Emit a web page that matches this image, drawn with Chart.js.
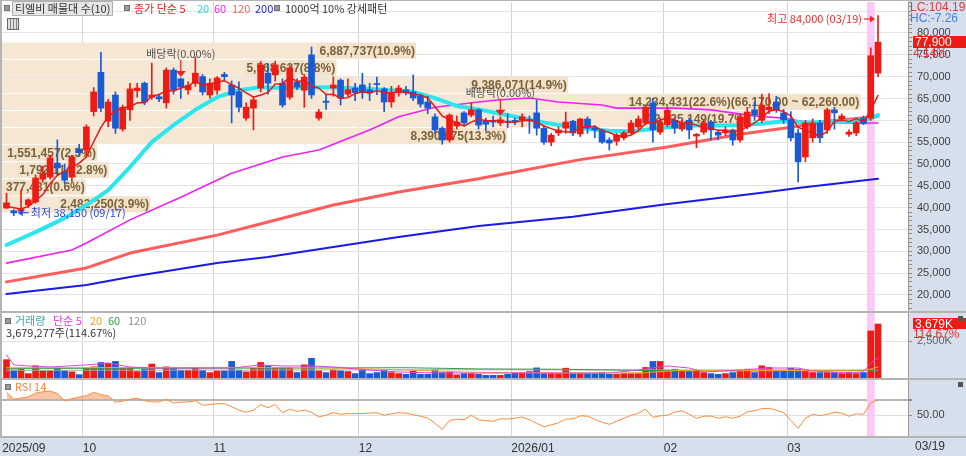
<!DOCTYPE html>
<html><head><meta charset="utf-8">
<script src="https://cdn.jsdelivr.net/npm/chart.js@4.4.1/dist/chart.umd.min.js"></script>
<style>
html,body{margin:0;padding:0;background:#fff;width:966px;height:456px;overflow:hidden;}
#root{position:relative;width:966px;height:456px;font-family:"Noto Sans CJK KR","Noto Sans",sans-serif;}
canvas{position:absolute;left:0;}
.strip{position:absolute;background:#d6e0ec;}
.ln{position:absolute;background:#b4b4b4;}
.t{position:absolute;white-space:nowrap;font-size:11px;line-height:13px;z-index:5;}
.sq{position:absolute;width:4px;height:4px;background:#9a9a9a;border:1px solid #707070;z-index:5;}
.tag{position:absolute;z-index:5;background:#ec1c14;color:#fff;font-family:"Liberation Sans",sans-serif;font-size:12px;line-height:12px;padding-left:2px;}
.ax{font-family:"Liberation Sans",sans-serif;font-size:12px;}
</style></head>
<body><div id="root">
<div class="strip" style="left:908px;top:0;width:58px;height:456px"></div>
<div class="strip" style="left:0;top:438px;width:908px;height:18px"></div>
<canvas id="cPrice" width="966" height="312" style="top:0;width:966px;height:312px"></canvas>
<canvas id="cVol" width="966" height="66" style="top:312px;width:966px;height:66px"></canvas>
<canvas id="cRsi" width="966" height="76" style="top:380px;width:966px;height:76px"></canvas>
<div class="ln" style="left:0;top:0;width:966px;height:1px"></div>
<div class="ln" style="left:0;top:0;width:2px;height:438px"></div>
<div class="ln" style="left:0;top:311px;width:966px;height:2px"></div>
<div class="ln" style="left:0;top:378px;width:966px;height:2px"></div>
<div class="ln" style="left:0;top:436px;width:966px;height:2px"></div>

<div class="sq" style="left:4px;top:5px"></div>
<div class="t" style="left:12px;top:1px;height:13px;padding:0 2px;background:#e6e6e6;border:1px solid #b0b0b0;color:#333">티엘비 매물대 수(10)</div>
<div class="sq" style="left:124px;top:5px"></div>
<div class="t" style="left:134px;top:2px;color:#ec2020">종가 단순 5</div>
<div class="t" style="left:197px;top:2px;color:#22dbe8">20</div>
<div class="t" style="left:214px;top:2px;color:#f020f0">60</div>
<div class="t" style="left:232px;top:2px;color:#ff6060">120</div>
<div class="t" style="left:255px;top:2px;color:#2020e0">200</div>
<div class="sq" style="left:274px;top:5px"></div>
<div class="t" style="left:285px;top:2px;color:#333">1000억 10% 강세패턴</div>
<div style="position:absolute;left:7px;top:18px;width:10px;height:10px;border:1px solid #666;background:repeating-linear-gradient(90deg,#ddd 0 2px,#888 2px 3px);z-index:5"></div>

<div class="t ax" style="left:910px;top:1px;color:#e03c3c">LC:104.19</div>
<div class="t ax" style="left:910px;top:12px;color:#4a7fd8">HC:-7.26</div>
<div class="tag" style="left:913px;top:36px;width:51px;height:12px">77,900</div>
<div class="t ax" style="left:913px;top:47px;color:#f03030">4.14%</div>

<div class="sq" style="left:5px;top:318px"></div>
<div class="t" style="left:15px;top:314px;color:#3aa5ad">거래량</div>
<div class="t" style="left:53px;top:314px;color:#e040e0">단순 5</div>
<div class="t" style="left:90px;top:314px;color:#f0a020">20</div>
<div class="t" style="left:108px;top:314px;color:#2e9e4a">60</div>
<div class="t" style="left:128px;top:314px;color:#909090">120</div>
<div class="t" style="left:6px;top:326px;color:#333">3,679,277주(114.67%)</div>
<div class="tag" style="left:913px;top:318px;width:51px;height:11px">3,679K</div>
<div class="t ax" style="left:913px;top:328px;color:#f03030">114.67%</div>
<div style="position:absolute;left:958px;top:316px;width:5px;height:5px;background:#555;z-index:5"></div>

<div class="sq" style="left:5px;top:384px"></div>
<div class="t" style="left:15px;top:380px;color:#ff8030">RSI 14</div>
<div style="position:absolute;left:958px;top:382px;width:5px;height:5px;background:#555;z-index:5"></div>
<div class="t ax" style="left:915px;top:440px;color:#333">03/19</div>
</div>
<script>
// ---------- categories ----------
const tradingDays = {
  '2025/09': [16,17,18,19,22,23,24,25,26,29,30],
  '2025/10': [1,2,10,13,14,15,16,17,20,21,22,23,24,27,28,29,30,31],
  '2025/11': [3,4,5,6,7,10,11,12,13,14,17,18,19,20,21,24,25,26,27,28],
  '2025/12': [1,2,3,4,5,8,9,10,11,12,15,16,17,18,19,22,23,24,26,29,30],
  '2026/01': [2,5,6,7,8,9,12,13,14,15,16,19,20,21,22,23,26,27,28,29,30],
  '2026/02': [2,3,4,5,6,9,10,11,12,13,19,20,23,24,25,26,27],
  '2026/03': [3,4,5,6,9,10,11,12,13,16,17,18,19]
};
const dates = Object.entries(tradingDays).flatMap(([m, ds]) => ds.map(d => m + '/' + String(d).padStart(2, '0')));

// ---------- price series ----------
const opens = [39900,39300,39200,40600,41300,46500,47000,50200,48200,47000,53400,
 53200,62000,71000,59800,65800,58000,62400,66800,68500,65300,65400,64000,71500,69500,67000,68500,70000,65800,
 66900,70500,68100,66500,60500,62800,67400,70800,70400,68500,65300,68800,66900,75000,60500,64400,67400,69200,66000,67400,
 68100,67000,68400,67200,64200,66300,67000,66500,65600,64200,60800,58200,55500,58700,61700,61200,62400,59800,59800,59400,59800,
 60000,60100,60200,61700,58200,55000,57100,58200,59800,56900,60300,58300,57800,55500,55200,56000,57100,58500,59400,64000,57300,
 59000,60000,58000,60000,56400,57300,59600,57300,57100,57800,55500,58500,62400,60000,62400,64200,61700,
 60100,57100,51600,56000,59400,57800,62400,60300,56800,57100,60500,60500,70800];
const highs = [43300,39500,44000,42000,47500,49500,52000,55500,50000,52000,54500,
 59000,67500,75600,64800,66500,63500,68500,68500,68800,73100,66000,72000,72000,69700,68800,74500,70500,69500,
 70000,71000,69000,68800,64000,65500,73500,73000,73500,69500,72500,69500,70500,76800,62500,66000,70000,69500,69500,68500,
 70800,68500,69900,67500,67800,68000,67800,70400,66000,65500,61500,58500,61500,61000,62000,64000,62600,60500,61000,60800,61500,
 60500,61500,61000,64600,58800,57000,58500,61900,60000,60500,60800,58800,58000,56000,57000,57500,60000,61000,63500,65000,60500,
 63000,60500,60000,60500,57000,60000,60000,57800,58500,58000,61500,63000,64200,66000,66100,65500,62500,
 62000,58000,60000,60300,60000,62800,63000,61500,57800,59800,61000,76600,84000];
const lows = [39800,38150,38700,40000,41000,45800,46500,47500,45500,46000,51800,
 51500,61000,62000,58500,57000,57500,60000,65300,63600,64800,64300,62800,66000,65000,66000,67800,65800,65000,
 66000,69000,59400,61900,60000,57800,66500,66000,69000,63000,64800,67000,63000,65000,60000,62500,65500,63500,65500,64500,
 65000,64500,65900,62000,63000,65500,65800,64500,63000,61500,57000,54500,55000,58000,58800,60800,58000,57500,58500,58800,58300,
 59000,58500,57000,56600,54500,54200,56500,57000,56500,56300,57000,56000,54700,53200,54300,55500,56800,58000,59000,55000,56800,
 58500,57000,57500,55800,53700,56800,55500,55500,56500,54300,55000,58000,60000,59500,61500,61800,59300,
 55300,45900,50500,55000,54900,57000,58000,59800,56300,56500,59000,60000,70000];
const closes = [41100,38800,39600,41800,46800,47800,51400,49100,46300,51600,52600,
 58500,66500,62800,64200,58200,63000,67200,67400,64200,65800,64900,71500,67000,67600,68000,70800,66500,68500,
 69700,70000,65800,63000,63000,64700,72700,68500,72700,63500,72000,67600,69900,65800,61900,64100,68100,65100,67000,66300,
 66300,66300,68200,64200,66300,67400,66300,65100,63700,62800,57800,55500,61200,59600,59400,62400,58900,59100,59600,60100,59600,
 59600,60800,59900,58200,55000,56600,57800,59600,57100,60300,58200,57800,55000,54800,56600,57100,59400,60300,63000,57800,59400,
 62300,58200,59300,57800,56800,59400,57800,56600,57800,55500,60800,61900,61200,63500,63000,62400,60100,
 56000,50500,59400,59400,56000,62400,61700,61000,57300,59400,59200,74800,77900];
const volumes = [1250000,550000,600000,300000,830000,490000,490000,670000,490000,420000,230000,
 670000,760000,1060000,1000000,1130000,670000,720000,440000,600000,950000,370000,760000,670000,530000,530000,720000,530000,370000,
 490000,490000,1130000,530000,420000,720000,1060000,830000,720000,720000,720000,370000,900000,1340000,490000,370000,550000,490000,440000,300000,
 550000,300000,370000,530000,370000,300000,250000,490000,250000,250000,550000,370000,420000,210000,300000,300000,250000,180000,180000,180000,250000,
 370000,370000,440000,690000,300000,300000,300000,670000,300000,300000,300000,300000,370000,250000,250000,300000,300000,300000,720000,1130000,1130000,
 530000,600000,490000,490000,490000,370000,300000,250000,300000,370000,440000,600000,370000,830000,720000,530000,530000,
 670000,600000,490000,370000,370000,370000,370000,300000,370000,300000,370000,3208600,3679277];

// ---------- moving averages ----------
const ma5 = [40300,40000,39700,40300,41600,43000,45500,47400,48300,49200,50200,
 51600,55100,58400,60900,62000,62900,63100,64000,64000,65500,65900,66800,66700,67400,67800,69000,68000,68300,
 68700,69100,68100,67400,66300,65300,65800,66400,68300,68400,69900,68900,69100,67800,67400,65900,66000,65000,65200,66100,
 66600,66200,66800,66300,66300,66500,66500,65900,65800,65100,63100,61000,60200,59400,58700,59600,60300,59900,59900,60000,59500,
 59600,59900,60000,59600,58700,58100,57500,57400,57200,58300,58600,58600,57700,57200,56500,56300,56600,57600,59300,59500,60000,
 60600,60100,59400,59400,58900,58300,58200,57700,57700,57400,57700,58500,59400,60600,62100,62400,62000,
 61000,58400,57700,57100,56300,57500,59800,60100,59700,60400,59700,62300,65700];
const ma20 = [['2025/09/16',31450],['2025/09/22',34400],['2025/09/26',37600],['2025/10/01',40600],['2025/10/13',44000],
 ['2025/10/16',49300],['2025/10/21',55000],['2025/10/24',58900],['2025/10/29',62400],['2025/11/03',65300],['2025/11/06',66900],
 ['2025/11/11',67600],['2025/11/14',67400],['2025/11/19',67600],['2025/11/24',67600],['2025/11/27',67400],['2025/12/02',67200],
 ['2025/12/05',66900],['2025/12/10',66500],['2025/12/15',65100],['2025/12/18',63300],['2025/12/23',62500],['2025/12/29',61500],
 ['2026/01/05',60500],['2026/01/08',59500],['2026/01/13',58700],['2026/01/16',58000],['2026/01/21',57600],['2026/01/26',57500],
 ['2026/01/29',58000],['2026/02/03',58600],['2026/02/06',58800],['2026/02/11',58800],['2026/02/19',58900],['2026/02/24',59200],
 ['2026/02/27',59800],['2026/03/05',59500],['2026/03/10',59600],['2026/03/13',59800],['2026/03/18',60400],['2026/03/19',61200]];
const ma60 = [['2025/09/16',27300],['2025/09/29',30300],['2025/10/01',31900],['2025/10/16',37200],['2025/10/27',42400],
 ['2025/11/05',47900],['2025/11/14',51600],['2025/11/21',53200],['2025/12/02',57800],['2025/12/08',60800],['2025/12/15',63000],
 ['2025/12/23',64200],['2025/12/29',64700],['2026/01/06',65100],['2026/01/12',64200],['2026/01/20',63500],['2026/01/22',62800],
 ['2026/02/03',62800],['2026/02/10',62400],['2026/02/23',61000],['2026/02/27',60500],['2026/03/05',59600],['2026/03/12',59400],
 ['2026/03/19',59400]];
const ma120 = [['2025/09/16',23000],['2025/10/01',26200],['2025/10/16',29600],['2025/11/03',33700],['2025/11/12',36700],
 ['2025/11/25',40600],['2025/12/08',43600],['2025/12/23',46600],['2026/01/15',51000],['2026/02/02',53900],['2026/02/19',56800],
 ['2026/03/03',58400],['2026/03/10',59800],['2026/03/19',60900]];
const ma200 = [['2025/09/16',20200],['2025/10/01',22300],['2025/10/16',24100],['2025/11/03',27300],['2025/11/12',28700],
 ['2025/11/25',31000],['2025/12/08',33300],['2025/12/23',35800],['2026/01/14',37900],['2026/01/30',40600],['2026/02/24',43400],
 ['2026/03/04',44500],['2026/03/19',46600]];

// ---------- volume moving averages ----------
const vma5 = [['2025/09/16',1570000],['2025/09/17',890000],['2025/09/19',820000],['2025/09/24',750000],['2025/10/01',890000],
 ['2025/10/13',1020000],['2025/10/16',750000],['2025/10/21',680000],['2025/10/30',680000],['2025/11/05',680000],['2025/11/11',890000],
 ['2025/11/14',820000],['2025/11/20',820000],['2025/11/25',750000],['2025/12/02',545000],['2025/12/08',410000],['2025/12/15',340000],
 ['2025/12/23',340000],['2026/01/21',340000],['2026/01/27',545000],['2026/02/02',820000],['2026/02/05',680000],['2026/02/09',410000],
 ['2026/02/19',545000],['2026/02/25',680000],['2026/03/04',680000],['2026/03/06',480000],['2026/03/13',340000],['2026/03/17',410000],
 ['2026/03/18',1020000],['2026/03/19',1360000]];
const vma20 = [['2025/09/16',700000],['2025/11/04',720000],['2025/11/25',680000],['2025/12/09',550000],['2025/12/23',380000],
 ['2026/01/16',340000],['2026/01/28',360000],['2026/02/03',500000],['2026/02/25',520000],['2026/03/17',480000],
 ['2026/03/18',620000],['2026/03/19',750000]];
const vma60 = [['2025/09/16',650000],['2025/11/18',680000],['2025/12/09',700000],['2025/12/23',620000],['2026/01/09',600000],
 ['2026/01/30',500000],['2026/02/25',470000],['2026/03/18',520000],['2026/03/19',570000]];
const vma120 = [['2025/09/16',520000],['2025/12/16',560000],['2026/03/19',540000]];

// ---------- RSI 14 ----------
const rsi14 = [80.7,71.3,72.7,74.4,79.3,81.1,82,78.9,69.1,72,74,
 76,80.3,77.3,75.7,67.3,68.7,71.3,72.7,69.3,67.7,67.7,71.3,66.4,67.3,67.7,69,63.3,64,
 65.3,65.3,61.3,56.7,54,56.7,64,60,64.3,53.3,58,55.3,56.7,54,48,50,53.6,51.3,52.3,52,
 52.3,52.9,53.3,50,52,53.3,52.7,50.7,48.7,46.3,39.3,31.3,43.3,44.7,44,50,44,42.9,42,45.3,45,
 46,47.7,44,39.3,34.7,37.3,40,44.7,45.3,49.3,48.7,44.7,40.7,38,42,46,50,52.7,58,47.3,49.3,
 50,54,56,51.3,46,48.7,49,46,48,46,48.7,54.7,56,58.7,59.3,56.7,53.6,
 43.3,32.7,46,51.3,49.3,51.3,54,52.7,48.7,52,51.3,66.5,70.2];

// ---------- volume profile (매물대 10) ----------
const profileLow = [38800,42710,46620,50530,54440,58350,62260,66170,70080,73990];
const profileHigh = [42710,46620,50530,54440,58350,62260,66170,70080,73990,77900];
const profileVolume = [2482250,377431,1792114,1551457,8390675,12425149,14234431,9386071,5568627,6887737];
const profilePct = [3.9,0.6,2.8,2.5,13.3,19.7,22.6,14.9,8.8,10.9];

// ---------- ticks / marks ----------
const priceTicks = [20000,25000,30000,35000,40000,45000,50000,55000,60000,65000,70000,75000,80000];
const volumeTicks = [2500000];
const rsiTicks = [50, 70];
const selectedDate = '2026/03/18';
const exDividendDates = ['2025/10/27', '2025/12/29'];
const lowMark = { date: '2025/09/17', price: 38150 };
const highMark = { date: '2026/03/19', price: 84000 };

// ---------- helpers ----------
const RED = '#ec1c14', BLUE = '#1a5ad2';
const idx = d => dates.indexOf(d);
const pts = arr => arr.map(([d, v]) => ({ x: idx(d), y: v }));
const candleColors = dates.map((d, i) => closes[i] >= opens[i] ? RED : BLUE);
const fmt = v => v.toLocaleString('en-US');
const X_MIN = -0.62, X_MAX = 124.13;
const P_MIN = 16100, P_MAX = 87100;
const V_MAX = 4430000;
const R_MIN = 21.2, R_MAX = 96.7;
const PROFILE_FULL = 23.86;           // % that would span the whole plot width
const selIdx = idx(selectedDate);

const monthStarts = dates.map((d, i) => (i > 0 && d.slice(0, 7) !== dates[i - 1].slice(0, 7)) ? i : -1).filter(i => i > 0);
const xTickVals = [X_MIN + 0.02, ...monthStarts.map(i => i - 0.5)];
const xTickLabels = [dates[0].slice(0, 7), ...monthStarts.map(i => {
  const d = dates[i]; return d.slice(5, 7) === '01' ? d.slice(0, 7) : d.slice(5, 7);
})];

Chart.defaults.font.family = '"Liberation Sans", "Noto Sans CJK KR", sans-serif';
Chart.defaults.animation = false;
Chart.defaults.events = [];
Chart.defaults.plugins.legend.display = false;
Chart.defaults.plugins.tooltip.enabled = false;

function xAxis(showLabels) {
  return {
    type: 'linear', min: X_MIN, max: X_MAX, offset: false, beginAtZero: false,
    grid: { offset: false, drawTicks: false, color: c => c.index === 0 ? 'rgba(0,0,0,0)' : '#d4d4d4' },
    border: { display: false },
    ticks: { display: showLabels, autoSkip: false, maxRotation: 0, align: 'start', padding: 4, color: '#333',
      font: { size: 12 }, callback: (v, i) => xTickLabels[i] },
    afterBuildTicks: s => { s.ticks = xTickVals.map(v => ({ value: v })); },
    afterFit: s => { s.paddingLeft = 0; s.paddingRight = 0; s.height = showLabels ? 18 : 0; }
  };
}
function rightAxis(extra) {
  return Object.assign({
    type: 'linear', position: 'right', offset: false,
    border: { color: '#9a9a9a' },
    afterFit: s => { s.width = 58; s.paddingTop = 0; s.paddingBottom = 0; }
  }, extra);
}
function band(min, max) {
  return { type: 'bar', label: 'sel', data: [{ x: selIdx, y: [min, max] }], backgroundColor: '#fcc8f7',
    barThickness: 7, grouped: false, order: 100, borderWidth: 0 };
}
function line(data, color, width, order) {
  return { type: 'line', data, borderColor: color, borderWidth: width, pointRadius: 0, tension: 0,
    fill: false, order, borderJoinStyle: 'round', borderCapStyle: 'round' };
}

// ---------- price plugins ----------
const profileLabels = {
  id: 'profileLabels',
  afterDatasetDraw(chart, args) {
    if (chart.data.datasets[args.index].label !== 'profile') return;
    const ctx = chart.ctx; const left = chart.chartArea.left + 2;
    const maxPct = Math.max(...profilePct);
    ctx.save();
    ctx.font = 'bold 12px "Liberation Sans"';
    ctx.textAlign = 'right'; ctx.textBaseline = 'middle';
    args.meta.data.forEach((bar, j) => {
      let text = fmt(profileVolume[j]) + '(' + profilePct[j].toFixed(1) + '%)';
      if (profilePct[j] === maxPct) {
        const f2 = v => v.toLocaleString('en-US', { minimumFractionDigits: 2, maximumFractionDigits: 2 });
        text += '(' + f2(profileHigh[j]) + ' ~ ' + f2(profileLow[j]) + ')';
      }
      const w = ctx.measureText(text).width;
      const end = Math.max(bar.x, bar.base);
      const right = Math.max(end, left + w + 3);
      ctx.fillStyle = '#f2e2cb';
      ctx.fillRect(right - w - 3, bar.y - 7.5, w + 3, 15);
      ctx.fillStyle = '#7a6238';
      ctx.fillText(text, right - 1, bar.y + 0.5);
    });
    ctx.restore();
  }
};
const markers = {
  id: 'markers',
  afterDatasetsDraw(chart) {
    const { ctx, scales: { x, y } } = chart;
    ctx.save();
    ctx.font = '11px "Noto Sans CJK KR"'; ctx.textBaseline = 'middle';
    exDividendDates.forEach(d => {
      const i = idx(d); const px = x.getPixelForValue(i); const tip = y.getPixelForValue(highs[i]) - 1;
      ctx.strokeStyle = '#f01e1e'; ctx.fillStyle = '#f01e1e'; ctx.lineWidth = 1.2;
      ctx.beginPath(); ctx.moveTo(px, tip - 17); ctx.lineTo(px, tip - 5); ctx.stroke();
      ctx.beginPath(); ctx.moveTo(px - 5, tip - 6); ctx.lineTo(px + 5, tip - 6); ctx.lineTo(px, tip); ctx.closePath(); ctx.fill();
      ctx.fillStyle = '#505050'; ctx.textAlign = 'center';
      ctx.fillText('배당락(0.00%)', px, tip - 23);
    });
    let i = idx(lowMark.date), px = x.getPixelForValue(i), py = y.getPixelForValue(lowMark.price) - 3;
    ctx.strokeStyle = '#2448e0'; ctx.fillStyle = '#2448e0'; ctx.lineWidth = 1.2;
    ctx.beginPath(); ctx.moveTo(px + 7, py); ctx.lineTo(px + 15, py); ctx.stroke();
    ctx.beginPath(); ctx.moveTo(px + 4, py); ctx.lineTo(px + 9, py - 3.5); ctx.lineTo(px + 9, py + 3.5); ctx.closePath(); ctx.fill();
    ctx.textAlign = 'left';
    ctx.fillText('최저 ' + fmt(lowMark.price) + ' (' + lowMark.date.slice(5) + ')', px + 17, py);
    i = idx(highMark.date); px = x.getPixelForValue(i); py = y.getPixelForValue(highMark.price) + 3.5;
    ctx.strokeStyle = '#f02828'; ctx.fillStyle = '#f02828';
    ctx.beginPath(); ctx.moveTo(px - 14, py); ctx.lineTo(px - 7, py); ctx.stroke();
    ctx.beginPath(); ctx.moveTo(px - 3, py); ctx.lineTo(px - 8, py - 3.5); ctx.lineTo(px - 8, py + 3.5); ctx.closePath(); ctx.fill();
    ctx.textAlign = 'right';
    ctx.fillText('최고 ' + fmt(highMark.price) + ' (' + highMark.date.slice(5) + ')', px - 16, py);
    ctx.restore();
  }
};

// ---------- price chart ----------
new Chart(document.getElementById('cPrice'), {
  type: 'bar',
  data: { datasets: [
    band(P_MIN, P_MAX),
    { type: 'bar', label: 'profile', indexAxis: 'y', xAxisID: 'x', yAxisID: 'y',
      data: profileLow.map((lo, j) => ({ y: (lo + profileHigh[j]) / 2,
        x: [X_MIN, X_MIN + profilePct[j] / PROFILE_FULL * (X_MAX - X_MIN)] })),
      backgroundColor: '#f6e7d4', barThickness: 15.5, grouped: false, order: 90, borderWidth: 0 },
    line(pts(ma200), '#1a1ae6', 2, 50),
    line(pts(ma120), '#ff5c5c', 3, 49),
    line(pts(ma60), '#f020f0', 1.6, 48),
    line(pts(ma20), '#2ce6ee', 4, 47),
    { type: 'bar', label: 'wick', data: dates.map((d, i) => ({ x: i, y: [lows[i], highs[i]] })),
      backgroundColor: candleColors, barThickness: 1, grouped: false, order: 20, borderWidth: 0 },
    { type: 'bar', label: 'body', data: dates.map((d, i) => ({ x: i, y: [opens[i], closes[i]] })),
      backgroundColor: candleColors, barThickness: 6, grouped: false, order: 19, borderWidth: 0, minBarLength: 1 },
    line(dates.map((d, i) => ({ x: i, y: ma5[i] })), '#e81818', 1.5, 10)
  ] },
  options: {
    responsive: false, maintainAspectRatio: false,
    layout: { padding: { left: 2, right: 0, top: 2, bottom: 0 } },
    scales: {
      x: xAxis(false),
      y: rightAxis({
        min: P_MIN, max: P_MAX, beginAtZero: false,
        grid: { offset: false, color: c => c.tick && c.tick.value % 5000 === 0 ? '#e3e3e3' : 'rgba(0,0,0,0)',
          tickColor: '#8c8c8c', tickLength: 4 },
        afterBuildTicks: s => { const t = []; for (let v = 17000; v <= 87000; v += 1000) t.push({ value: v }); s.ticks = t; },
        ticks: { autoSkip: false, padding: 5, color: '#404040', font: { size: 11 },
          callback: v => priceTicks.includes(v) ? fmt(v) : '' }
      })
    }
  },
  plugins: [profileLabels, markers]
});

// ---------- volume chart ----------
new Chart(document.getElementById('cVol'), {
  type: 'bar',
  data: { datasets: [
    band(0, V_MAX),
    { type: 'bar', data: dates.map((d, i) => ({ x: i, y: volumes[i] })), backgroundColor: candleColors,
      barThickness: 6, grouped: false, order: 20, borderWidth: 0 },
    line(pts(vma120), '#a8a8a8', 1, 9),
    line(pts(vma60), '#2e9e4a', 1, 8),
    line(pts(vma20), '#f5a623', 1, 7),
    line(pts(vma5), '#e040e0', 1, 6)
  ] },
  options: {
    responsive: false, maintainAspectRatio: false,
    layout: { padding: { left: 2, right: 0, top: 1, bottom: 0 } },
    scales: {
      x: xAxis(false),
      y: rightAxis({
        min: 0, max: V_MAX,
        grid: { offset: false, color: '#e3e3e3', tickColor: '#8c8c8c', tickLength: 4 },
        afterBuildTicks: s => { s.ticks = volumeTicks.map(v => ({ value: v })); },
        ticks: { padding: 5, color: '#606060', font: { size: 11 }, callback: v => fmt(v / 1000) + 'K' }
      })
    }
  }
});

// ---------- RSI chart ----------
new Chart(document.getElementById('cRsi'), {
  type: 'line',
  data: { datasets: [
    band(R_MIN, R_MAX),
    { type: 'line', data: dates.map((d, i) => ({ x: i, y: rsi14[i] })), borderColor: '#ff8a3d', borderWidth: 1,
      pointRadius: 0, tension: 0, order: 5,
      fill: { target: { value: 70 }, above: 'rgba(242,160,110,0.6)', below: 'rgba(0,0,0,0)' } }
  ] },
  options: {
    responsive: false, maintainAspectRatio: false,
    layout: { padding: { left: 2, right: 0, top: 0, bottom: 1 } },
    scales: {
      x: xAxis(true),
      y: rightAxis({
        min: R_MIN, max: R_MAX,
        grid: { offset: false, color: c => c.tick && c.tick.value === 70 ? '#b8b8b8' : '#e0e0e0',
          lineWidth: c => c.tick && c.tick.value === 70 ? 2 : 1, tickColor: '#8c8c8c', tickLength: 4 },
        afterBuildTicks: s => { s.ticks = rsiTicks.map(v => ({ value: v })); },
        ticks: { padding: 5, color: '#404040', font: { size: 11 }, callback: v => v === 50 ? v.toFixed(2) : '' }
      })
    }
  }
});
</script>
</body></html>
